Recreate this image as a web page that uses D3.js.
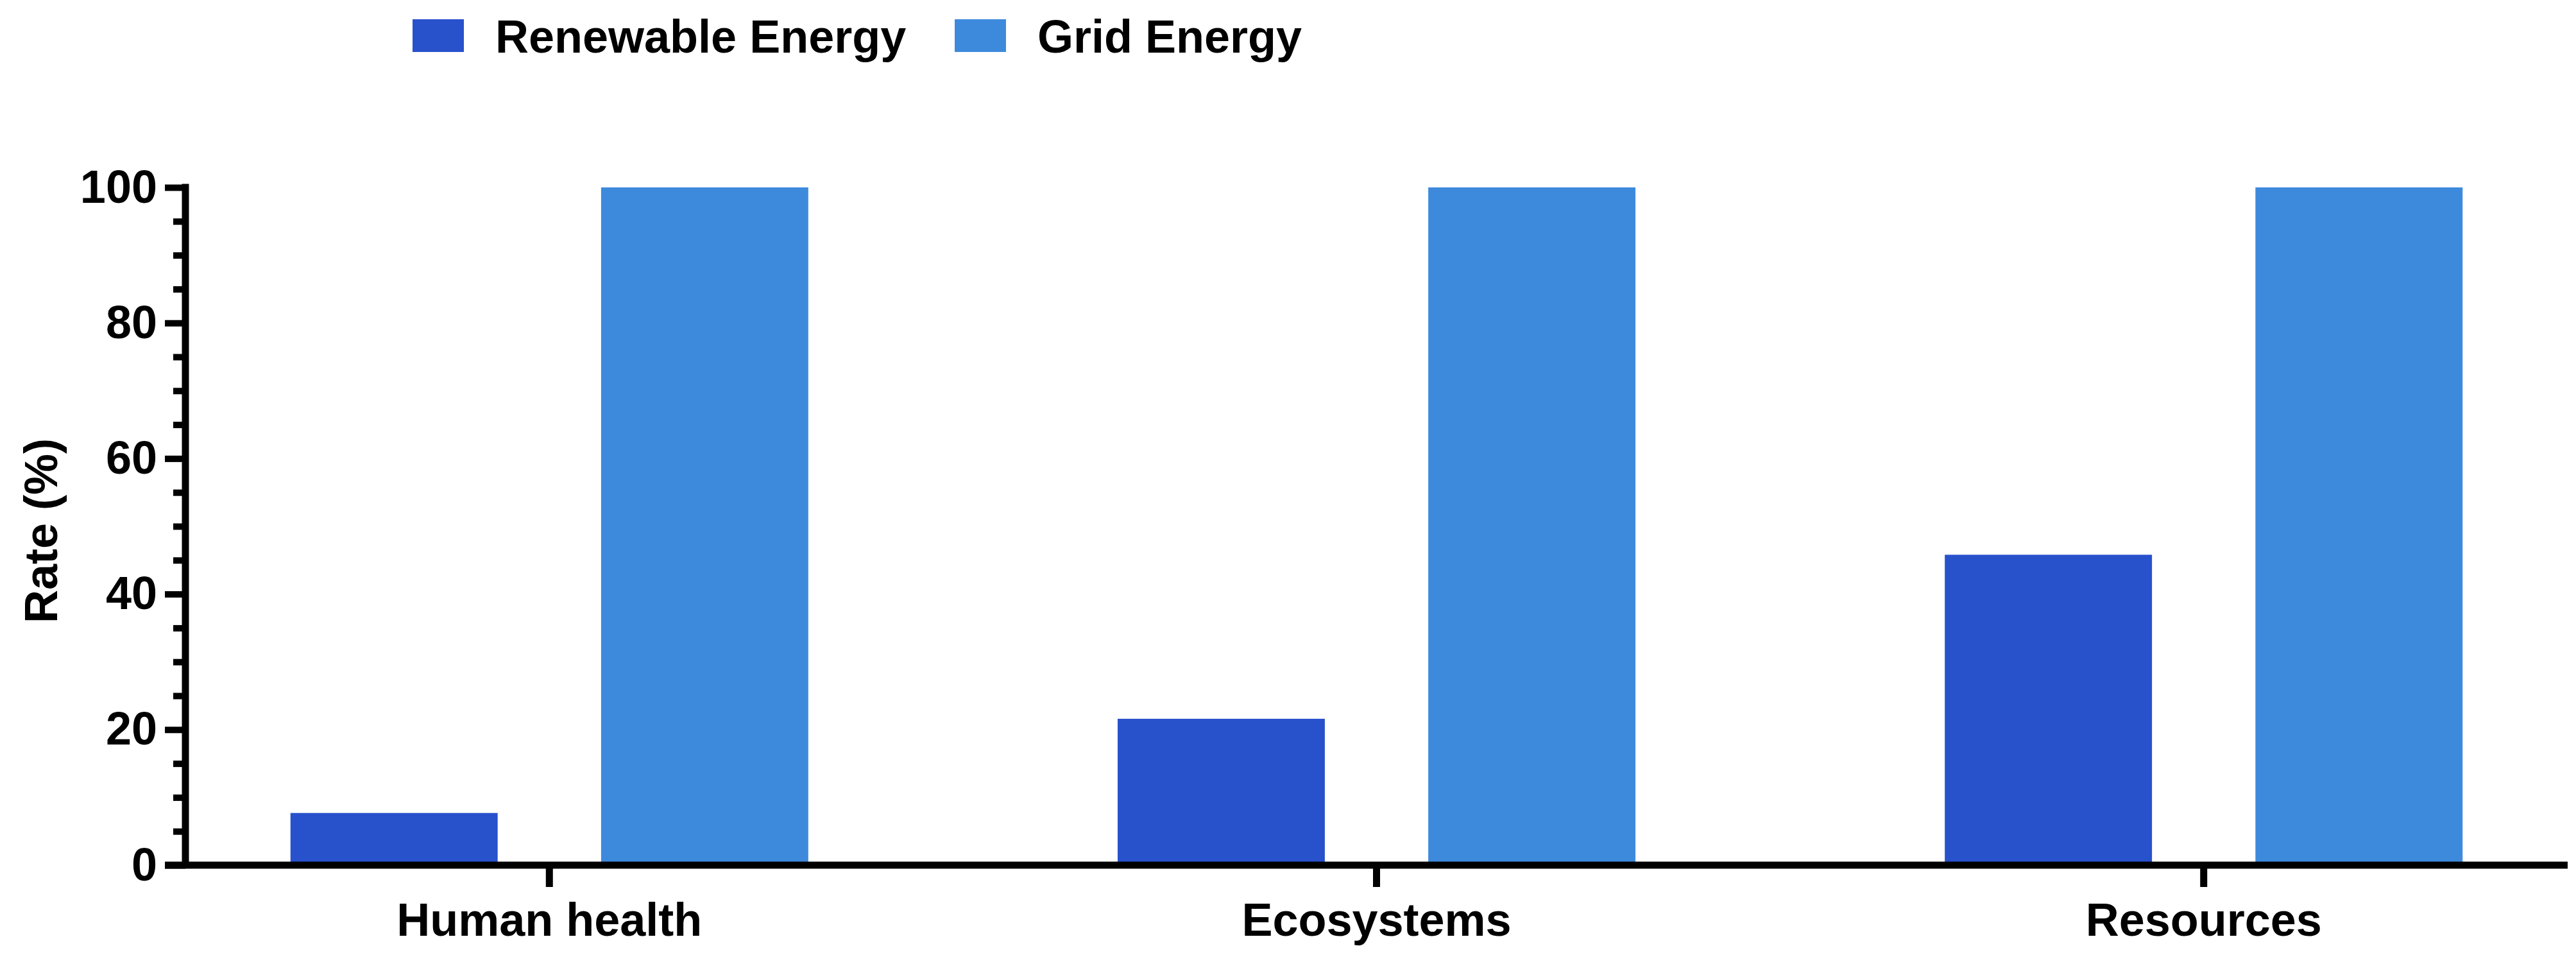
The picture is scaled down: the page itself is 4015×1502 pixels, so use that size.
<!DOCTYPE html>
<html>
<head>
<meta charset="utf-8">
<script src="https://cdn.jsdelivr.net/npm/d3@7"></script>
<style>
  html, body { margin: 0; padding: 0; background: #fff; }
  svg { display: block; }
  text { font-family: "Liberation Sans", Arial, sans-serif; font-weight: bold; fill: #000; }
</style>
</head>
<body>
<script>
// ---- data ----
const categories = ["Human health", "Ecosystems", "Resources"];
const seriesNames = ["Renewable Energy", "Grid Energy"];
const renewableValues = [7.7, 21.6, 45.8];
const gridValues = [100, 100, 100];
const yMajorTicks = [0, 20, 40, 60, 80, 100];
const yMinorTicks = [5, 10, 15, 25, 30, 35, 45, 50, 55, 65, 70, 75, 85, 90, 95];
const colors = ["#2851CC", "#3D8ADD"];

(function () {
const W = 4015, H = 1502;
const svg = d3.select("body").append("svg").attr("width", W).attr("height", H);

const plotLeft = 289, plotRight = 4002, plotTop = 292, plotBottom = 1348;
const fontSize = 72;
const axisW = 11;
const fontFam = '"Liberation Sans", Arial, sans-serif';

const y = d3.scaleLinear().domain([0, 100]).range([plotBottom, plotTop]);
const x0 = d3.scaleBand().domain(categories).range([plotLeft, plotRight])
  .paddingInner(0.374).paddingOuter(0.127);
const x1 = d3.scaleBand().domain(seriesNames).range([0, x0.bandwidth()])
  .paddingInner(0.333).paddingOuter(0);

const seriesValues = [renewableValues, gridValues];
const rows = categories.map((c, i) => ({ cat: c, vals: seriesNames.map((s, j) => ({ s, v: seriesValues[j][i], j })) }));

// bars
const g = svg.append("g");
g.selectAll("g.grp").data(rows).join("g")
  .attr("class", "grp")
  .attr("transform", d => `translate(${x0(d.cat)},0)`)
  .selectAll("rect").data(d => d.vals).join("rect")
  .attr("x", d => x1(d.s))
  .attr("width", x1.bandwidth())
  .attr("y", d => y(d.v))
  .attr("height", d => y(0) - y(d.v))
  .attr("fill", d => colors[d.j]);

// y axis major
const majorLen = 32, minorLen = 19;
const yAxis = svg.append("g").attr("transform", `translate(${plotLeft},0)`)
  .call(d3.axisLeft(y).tickValues(yMajorTicks).tickSize(majorLen).tickSizeOuter(0).tickPadding(12));
yAxis.select(".domain").remove();
yAxis.selectAll(".tick line").attr("stroke", "#000").attr("stroke-width", 10);
yAxis.selectAll(".tick text").attr("font-size", fontSize).style("font-family", fontFam).style("font-weight", "bold").attr("fill", "#000");

const yMinor = svg.append("g").attr("transform", `translate(${plotLeft},0)`)
  .call(d3.axisLeft(y).tickValues(yMinorTicks).tickSize(minorLen).tickFormat(""));
yMinor.select(".domain").remove();
yMinor.selectAll(".tick line").attr("stroke", "#000").attr("stroke-width", 10);

// y axis line
svg.append("line")
  .attr("x1", plotLeft).attr("x2", plotLeft)
  .attr("y1", y(100) - 5.5).attr("y2", y(0))
  .attr("stroke", "#000").attr("stroke-width", axisW);

// x axis
const xAxis = svg.append("g").attr("transform", `translate(0,${y(0)})`)
  .call(d3.axisBottom(x0).tickSize(34).tickSizeOuter(0).tickPadding(25));
xAxis.select(".domain").remove();
xAxis.selectAll(".tick line").attr("stroke", "#000").attr("stroke-width", 11);
xAxis.selectAll(".tick text").attr("font-size", fontSize).style("font-family", fontFam).style("font-weight", "bold").attr("fill", "#000");

svg.append("line")
  .attr("x1", plotLeft - majorLen).attr("x2", plotRight)
  .attr("y1", y(0)).attr("y2", y(0))
  .attr("stroke", "#000").attr("stroke-width", axisW);

// y axis title
svg.append("text")
  .attr("transform", `translate(89,${(y(0) + y(100)) / 2 + 7}) rotate(-90)`)
  .attr("text-anchor", "middle")
  .attr("font-size", fontSize)
  .text("Rate (%)");

// legend
const legendX = [643, 1488];
const lg = svg.append("g");
seriesNames.forEach((s, j) => {
  lg.append("rect").attr("x", legendX[j]).attr("y", 30).attr("width", 80).attr("height", 51).attr("fill", colors[j]);
  lg.append("text").attr("x", legendX[j] + 129).attr("y", 82).attr("font-size", fontSize).text(s);
});
})();
</script>
</body>
</html>
